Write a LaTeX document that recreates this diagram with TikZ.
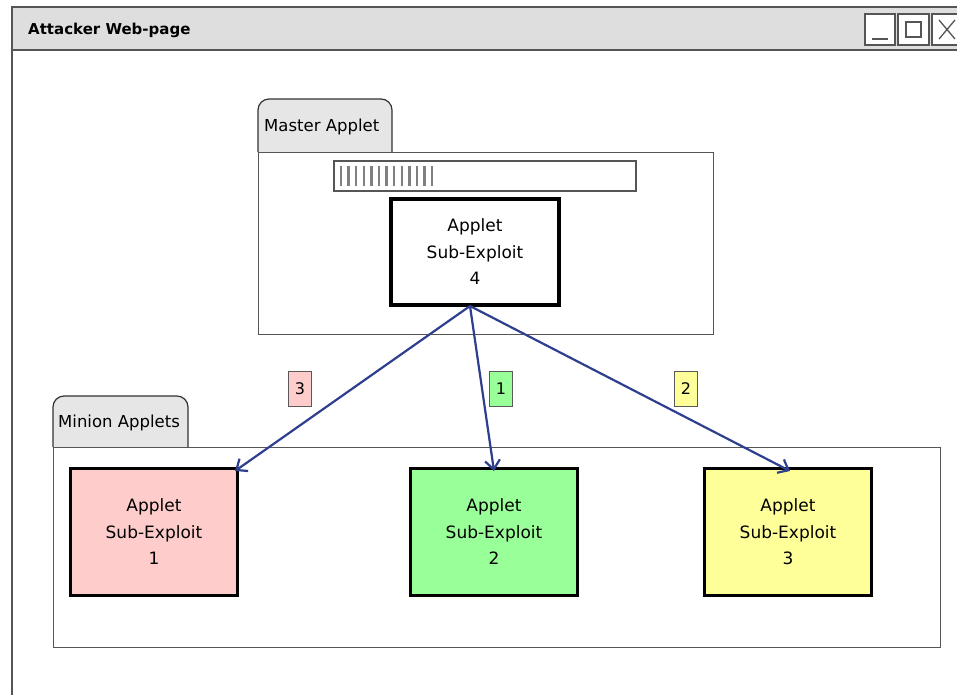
\documentclass[tikz,border=0pt]{standalone}
\usepackage{fontspec}
\setmainfont{DejaVu Sans}
\usetikzlibrary{arrows.meta}
\definecolor{barfill}{HTML}{DEDEDE}
\definecolor{tabfill}{HTML}{E6E6E6}
\definecolor{pinkfill}{HTML}{FFCCCC}
\definecolor{greenfill}{HTML}{99FF99}
\definecolor{yellowfill}{HTML}{FFFF99}
\definecolor{linkblue}{HTML}{2E3F8F}
\definecolor{framegray}{HTML}{555555}
\tikzset{
  frame/.style={draw=framegray, line width=1pt},
  tabshape/.style={draw=black!80, line width=1.2pt, fill=tabfill, rounded corners=11pt},
  applet/.style={draw=black, line width=2.2pt, minimum width=167pt, minimum height=127pt,
    align=center, font=\fontsize{17}{26.5}\selectfont, inner sep=0pt},
  masterbox/.style={applet, line width=3.2pt, minimum width=168pt, minimum height=106pt},
  tag/.style={draw=black!65, line width=1.3pt, minimum width=23pt, minimum height=35pt,
    inner sep=0pt, font=\fontsize{16}{18}\selectfont},
  link/.style={draw=linkblue, line width=2.2pt, -{Straight Barb[length=9pt,width=15pt,line width=2.2pt]}},
  caption/.style={font=\fontsize{16.5}{18}\selectfont, anchor=west, inner sep=0pt}
}
\begin{document}
\begin{tikzpicture}[x=1pt,y=-1pt]
\useasboundingbox (0,0) rectangle (957,694);
\fill[white] (0,0) rectangle (957,694);

% browser window
\fill[barfill] (12,7) rectangle (962,50);
\draw[frame, line width=1.5pt] (12,698) -- (12,7) -- (962,7);
\draw[frame, line width=1.5pt] (12,50) -- (962,50);
\node[font=\bfseries\fontsize{15}{18}\selectfont, anchor=west, inner sep=0pt] (title) at (28,30) {Attacker Web-page};
% window buttons
\draw[frame, line width=1.3pt, fill=white] (865,14) rectangle (895,45);
\draw[frame, line width=1.3pt] (872,39) -- (888,39);
\draw[frame, line width=1.3pt, fill=white] (898,14) rectangle (929,45);
\draw[frame, line width=1.3pt] (906,22) rectangle (921,37);
\draw[frame, line width=1.3pt, fill=white] (932,14) rectangle (962,45);
\draw[frame, line width=1.3pt] (939,20) -- (955,39) (939,39) -- (955,20);

% master applet container
\draw[tabshape] (258,152) -- (258,99) -- (392,99) -- (392,152);
\node[caption] (mastertab) at (264,127) {Master Applet};
\draw[frame, line width=1pt] (258,152) rectangle (713,334);
% progress bar
\draw[frame, line width=1.3pt] (334,161) rectangle (636,191);
\foreach \i in {0,...,12} {
  \draw[draw=gray, line width=2.4pt] ({341+7.6*\i},166) -- ({341+7.6*\i},186);
}
\node[masterbox] (m4) at (475,252) {Applet\\Sub-Exploit\\4};

% minion applets container
\draw[tabshape] (53,447) -- (53,396) -- (188,396) -- (188,447);
\node[caption] (miniontab) at (58,423) {Minion Applets};
\draw[frame, line width=1pt] (53,447) rectangle (940,647);

\node[applet, fill=pinkfill] (s1) at (154,532) {Applet\\Sub-Exploit\\1};
\node[applet, fill=greenfill] (s2) at (494,532) {Applet\\Sub-Exploit\\2};
\node[applet, fill=yellowfill] (s3) at (788,532) {Applet\\Sub-Exploit\\3};

% launch order
\coordinate (src) at (470,306);
\draw[link] (src) -- (235,471);
\draw[link] (src) -- (494,471);
\draw[link] (src) -- (790,471);

\node[tag, fill=pinkfill] (t3) at (300,389) {3};
\node[tag, fill=greenfill] (t1) at (501,389) {1};
\node[tag, fill=yellowfill] (t2) at (686,389) {2};
\end{tikzpicture}
\end{document}
